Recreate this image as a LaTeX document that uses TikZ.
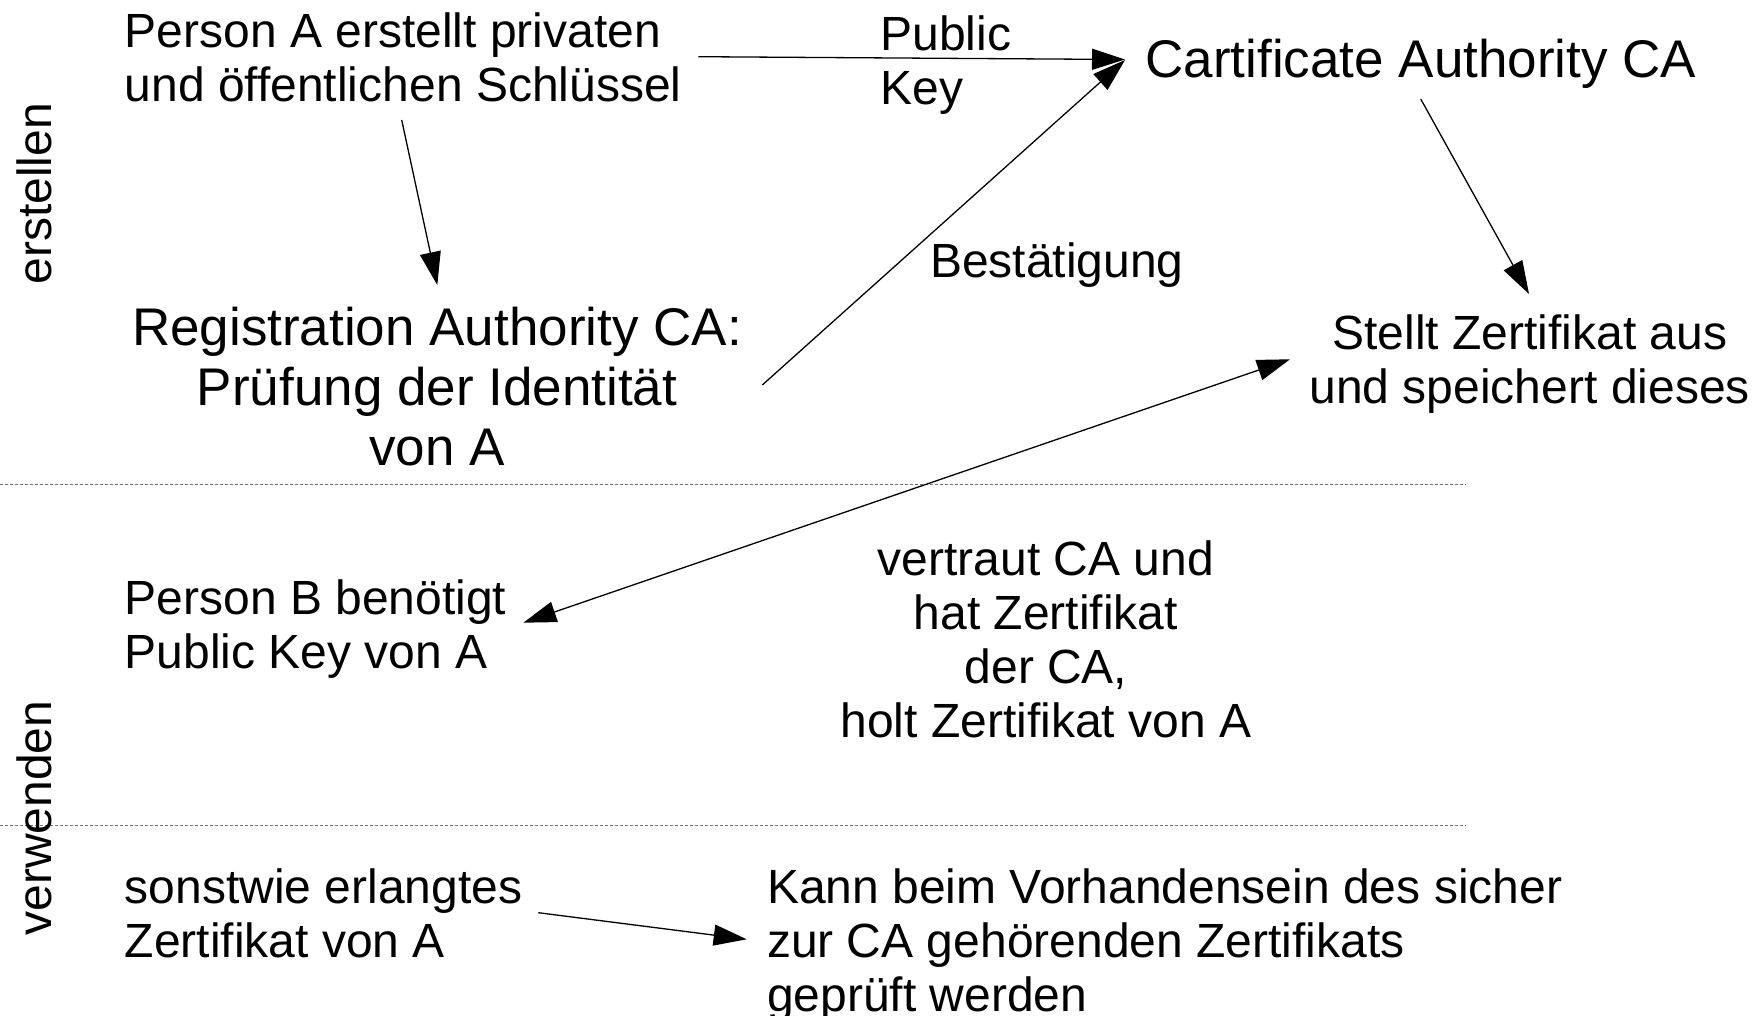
\documentclass[tikz,border=0pt]{standalone}
\usepackage{fontspec}
\setmainfont{Liberation Sans}
\usetikzlibrary{arrows.meta}

\tikzset{
  txt/.style={inner sep=0pt, outer sep=0pt, font=\fontsize{48}{54}\selectfont},
  bigtxt/.style={inner sep=0pt, outer sep=0pt, font=\fontsize{53}{60}\selectfont},
  tip/.tip={Triangle[length=33pt,width=21pt]},
  conn/.style={line width=1.3pt, -tip},
  twoway/.style={line width=1.3pt, tip-tip},
  separator/.style={draw=black!55, line width=1.3pt, dash pattern=on 3.3pt off 1.7pt},
  phase/.style={txt, rotate=90, anchor=base}
}

\begin{document}
\begin{tikzpicture}[x=1pt, y=-1pt]
  \useasboundingbox[fill=white] (0,0) rectangle (1761,1016);

  % phase separators
  \draw[separator] (0,484.5) -- (1466,484.5);
  \draw[separator] (0,825.5) -- (1466,825.5);

  % phase labels
  \node[phase] (erst) at (51,193.7) {erstellen};
  \node[phase] (verw) at (51,818) {verwenden};

  % creation phase
  \node[txt, anchor=north west, align=left] (pa) at (124.7,12.6)
    {Person A erstellt privaten\\und öffentlichen Schlüssel};
  \node[bigtxt, anchor=north, align=center] (ra) at (437,307)
    {Registration Authority CA:\\Prüfung der Identität\\von A};
  \node[bigtxt, anchor=base west] (ca) at (1145.6,77.5) {Cartificate Authority CA};
  \node[txt, anchor=north west, align=left] (pk) at (880.5,16.1) {Public\\Key};
  \node[txt, anchor=base west] (best) at (930,277.4) {Bestätigung};
  \node[txt, anchor=north, align=center] (zert) at (1529.7,314.6)
    {Stellt Zertifikat aus\\und speichert dieses};

  % usage phase
  \node[txt, anchor=north west, align=left] (pb) at (124.7,580.1)
    {Person B benötigt\\Public Key von A};
  \node[txt, anchor=north, align=center] (trust) at (1046,540.6)
    {vertraut CA und\\hat Zertifikat\\der CA,\\holt Zertifikat von A};
  \node[txt, anchor=north west, align=left] (other) at (124.7,868.6)
    {sonstwie erlangtes\\Zertifikat von A};
  \node[txt, anchor=north west, align=left] (check) at (767,868.6)
    {Kann beim Vorhandensein des sicher\\zur CA gehörenden Zertifikats\\geprüft werden};

  % connectors
  \draw[conn] ([shift={(573.6,44.1)}]pa.north west) -- ([shift={(-20.6,-18)}]ca.base west);
  \draw[conn] ([shift={(277,107.4)}]pa.north west) -- ([shift={(0.3,-22)}]ra.north);
  \draw[conn] ([shift={(325.3,78)}]ra.north) -- ([shift={(-20.6,-17.5)}]ca.base west);
  \draw[conn] ([shift={(275.1,21.5)}]ca.base west) -- ([shift={(-0.7,-20.6)}]zert.north);
  \draw[twoway] ([shift={(398.6,42.6)}]pb.north west) -- ([shift={(-239.7,44.7)}]zert.north);
  \draw[conn] ([shift={(413.6,44.1)}]other.north west) -- ([shift={(-20.3,70.7)}]check.north west);
\end{tikzpicture}
\end{document}
